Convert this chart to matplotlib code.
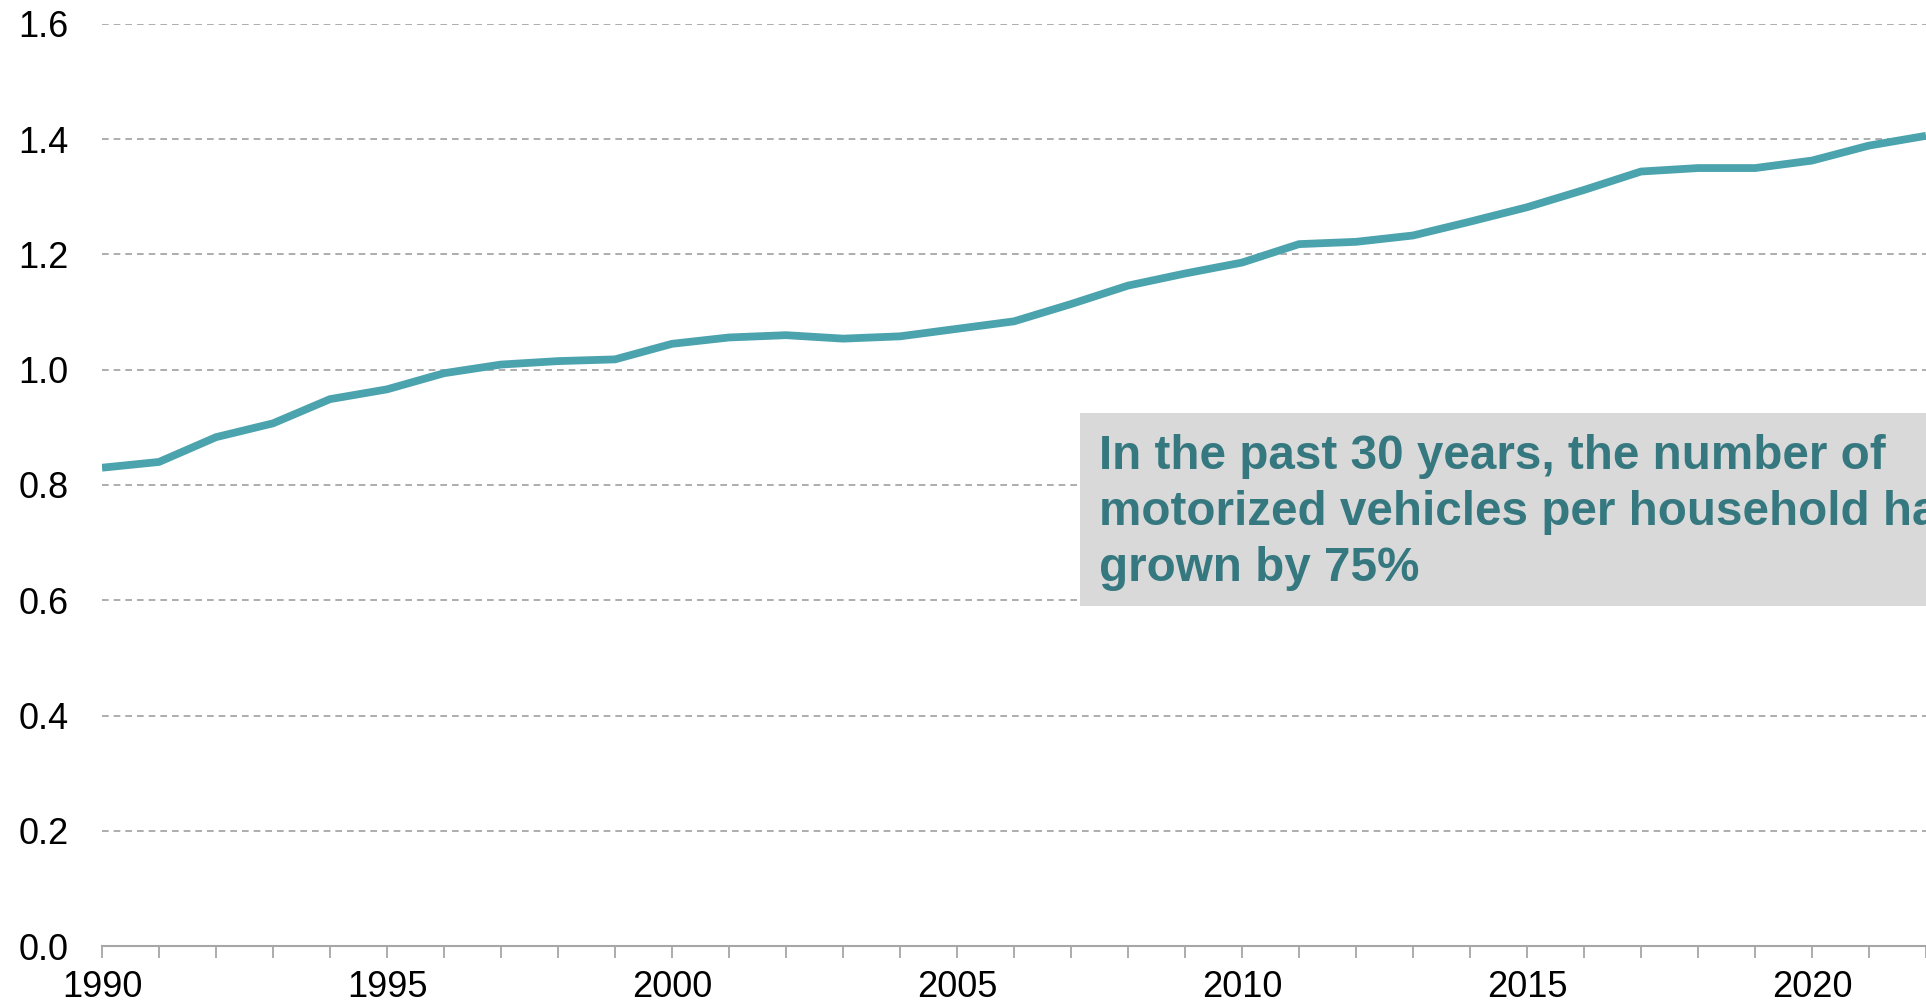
import matplotlib.pyplot as plt
from matplotlib.patches import Rectangle

# vehicles per household
years = list(range(1990, 2023))
vehicles = [0.830, 0.840, 0.883, 0.907, 0.949, 0.966, 0.994, 1.009, 1.015, 1.018,
            1.045, 1.056, 1.060, 1.054, 1.058, 1.071, 1.084, 1.114, 1.146, 1.167,
            1.186, 1.218, 1.222, 1.233, 1.257, 1.282, 1.312, 1.344, 1.350, 1.350,
            1.363, 1.389, 1.406]
y_ticks = [0.0, 0.2, 0.4, 0.6, 0.8, 1.0, 1.2, 1.4, 1.6]
note = "In the past 30 years, the number of\nmotorized vehicles per household has\ngrown by 75%"

plt.rcParams['font.family'] = ['Liberation Sans', 'DejaVu Sans']

fig = plt.figure(figsize=(19.26, 10.07), dpi=100)
ax = fig.add_axes([102 / 1926, 61 / 1007, 1824 / 1926, 922 / 1007])

ax.plot(years, vehicles, color="#4BA3AD", linewidth=5.6, solid_capstyle="butt", zorder=3)

ax.set_xlim(1990, 2022)
ax.set_ylim(0, 1.6)
ax.set_yticks(y_ticks)
ax.set_yticklabels([f"{v:.1f}" for v in y_ticks])
ax.set_xticks(years)
ax.set_xticklabels([str(y) if y % 5 == 0 else "" for y in years])

ax.grid(axis="y", color="#a0a0a0", linestyle=(0, (4, 3)), linewidth=1.2)
ax.set_axisbelow(True)
for side in ["top", "right", "left"]:
    ax.spines[side].set_visible(False)
ax.spines["bottom"].set_color("#a6a6a6")
ax.spines["bottom"].set_linewidth(1.5)

ax.tick_params(axis="y", length=0, pad=24, labelsize=26)
ax.tick_params(axis="x", direction="out", length=8.5, width=1.3, color="#a6a6a6",
               pad=9, labelsize=26)

# grey callout box
fig.patches.append(Rectangle((1080 / 1926, 401 / 1007), 0.6, 193 / 1007,
                             transform=fig.transFigure, facecolor="#d9d9d9",
                             edgecolor="none", zorder=5))
fig.text(1099 / 1926, 1 - 434 / 1007, note, ha="left", va="top",
         fontsize=34.3, fontweight="bold", color="#35787F", linespacing=1.31,
         zorder=6)

fig.savefig("out.png", dpi=100)
